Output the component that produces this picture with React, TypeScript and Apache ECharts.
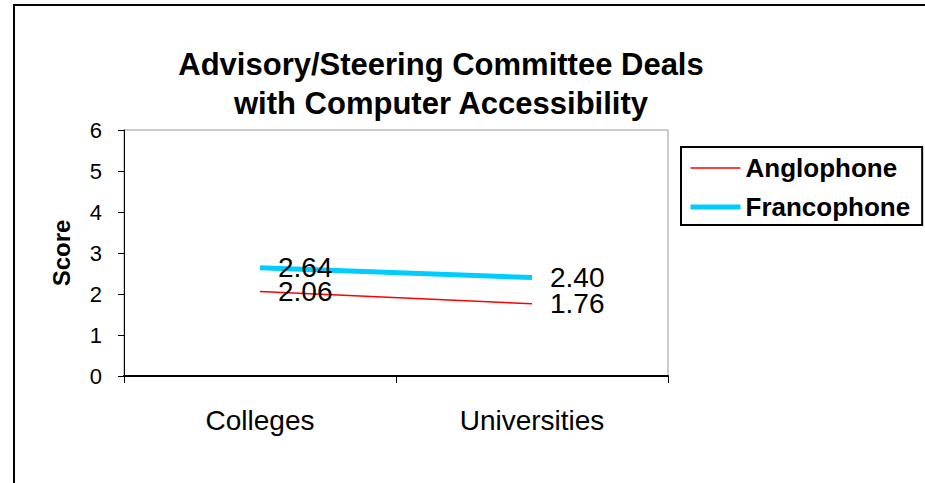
import React, { useEffect, useRef } from "react";
import * as echarts from "echarts";

const categories = ["Colleges", "Universities"];
const anglophone = [2.06, 1.76];
const francophone = [2.64, 2.4];
const yTicks = { min: 0, max: 6, interval: 1 };
const titleText = "Advisory/Steering Committee Deals\nwith Computer Accessibility";
const yName = "Score";

const FONT = "'Liberation Sans', Arial, sans-serif";

export default function App() {
  const ref = useRef<HTMLDivElement>(null);
  useEffect(() => {
    const chart = echarts.init(ref.current!, null, { renderer: "svg" });
    const label = {
      show: true,
      position: "right",
      distance: 18,
      fontSize: 28,
      lineHeight: 22,
      color: "#000",
      fontFamily: FONT,
      formatter: (p: any) => Number(p.value).toFixed(2),
    };
    chart.setOption({
      animation: false,
      backgroundColor: "#fff",
      textStyle: { fontFamily: FONT },
      title: {
        text: titleText,
        left: 441,
        top: 45,
        padding: 0,
        textAlign: "center",
        textStyle: { fontSize: 31, fontWeight: "bold", color: "#000", lineHeight: 39, fontFamily: FONT },
      },
      graphic: [
        {
          type: "rect",
          shape: { x: 14, y: 5, width: 940, height: 500 },
          style: { fill: "none", stroke: "#000", lineWidth: 2 },
          silent: true,
        },
      ],
      legend: {
        orient: "vertical",
        left: 681,
        top: 147,
        borderColor: "#000",
        borderWidth: 2,
        padding: [8, 12, 5, 7],
        itemGap: 13,
        itemWidth: 50,
        itemHeight: 14,
        itemStyle: { opacity: 0 },
        data: [
          { name: "Anglophone", lineStyle: { width: 1.5, color: "#FF0000" } },
          { name: "Francophone", lineStyle: { width: 5, color: "#00CCFF" } },
        ],
        textStyle: { fontSize: 26, fontWeight: "bold", color: "#000", fontFamily: FONT },
      },
      grid: {
        left: 124,
        right: 257,
        top: 130,
        bottom: 107,
        show: true,
        borderColor: "#999",
        borderWidth: 1,
      },
      xAxis: {
        type: "category",
        data: categories,
        boundaryGap: true,
        axisLine: { lineStyle: { color: "#000", width: 2 } },
        axisTick: { show: true, length: 7, lineStyle: { color: "#000" } },
        axisLabel: { fontSize: 28, color: "#000", margin: 30, fontFamily: FONT },
        splitLine: { show: false },
      },
      yAxis: {
        type: "value",
        min: yTicks.min,
        max: yTicks.max,
        interval: yTicks.interval,
        name: yName,
        nameLocation: "middle",
        nameRotate: 90,
        nameGap: 51,
        nameTextStyle: { fontSize: 24, fontWeight: "bold", color: "#000", fontFamily: FONT },
        axisLine: { show: true, lineStyle: { color: "#000", width: 1 } },
        axisTick: { show: true, length: 6, lineStyle: { color: "#000" } },
        axisLabel: { fontSize: 22, color: "#000", margin: 22, fontFamily: FONT },
        splitLine: { show: false },
      },
      series: [
        {
          name: "Anglophone",
          type: "line",
          data: anglophone,
          symbol: "circle",
          symbolSize: 0,
          showSymbol: true,
          lineStyle: { color: "#FF0000", width: 1.5 },
          itemStyle: { color: "#FF0000" },
          label,
        },
        {
          name: "Francophone",
          type: "line",
          data: francophone,
          symbol: "circle",
          symbolSize: 0,
          showSymbol: true,
          lineStyle: { color: "#00CCFF", width: 5 },
          itemStyle: { color: "#00CCFF" },
          label,
        },
      ],
    });
    return () => chart.dispose();
  }, []);
  return (
    <div
      ref={ref}
      style={{ position: "absolute", left: 0, top: 0, width: 925, height: 483 }}
    />
  );
}
